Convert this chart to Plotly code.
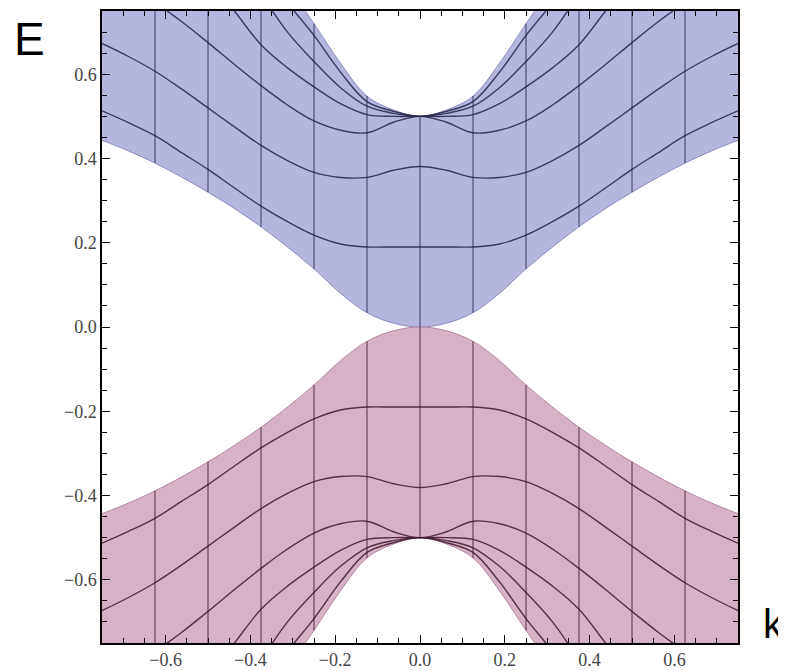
import plotly.graph_objects as go

# ---- data (right half, k >= 0; the picture is mirror-symmetric in k) ----
k_half = [0.0, 0.0625, 0.125, 0.1875, 0.25, 0.3125, 0.375, 0.4375, 0.5, 0.5625, 0.625, 0.6875, 0.75]

# upper (conduction) band: boundaries and mesh curves
cb_edge  = [0.000, 0.009, 0.034, 0.080, 0.138, 0.190, 0.238, 0.281, 0.320, 0.356, 0.389, 0.418, 0.443]
cb_line1 = [0.190, 0.190, 0.190, 0.197, 0.218, 0.250, 0.287, 0.330, 0.374, 0.414, 0.454, 0.485, 0.513]
cb_line2 = [0.381, 0.372, 0.355, 0.355, 0.367, 0.395, 0.431, 0.475, 0.520, 0.565, 0.607, 0.642, 0.673]
cb_line3 = [0.500, 0.486, 0.461, 0.467, 0.489, 0.527, 0.573, 0.623, 0.675, 0.725, 0.770, 0.810, 0.850]
cb_line4 = [0.500, 0.500, 0.504, 0.530, 0.570, 0.615, 0.670, 0.750, 0.830, 0.900, 0.970, 1.030, 1.090]
cb_line5 = [0.500, 0.507, 0.524, 0.568, 0.630, 0.700, 0.790, 0.880, 0.970, 1.050, 1.130, 1.210, 1.290]
cb_line6 = [0.500, 0.512, 0.535, 0.605, 0.692, 0.770, 0.860, 0.950, 1.040, 1.130, 1.220, 1.310, 1.400]
cb_top   = [0.500, 0.515, 0.548, 0.626, 0.720, 0.810, 0.900, 0.990, 1.080, 1.170, 1.260, 1.350, 1.440]

# lower (valence) band
vb_edge  = [-0.000, -0.009, -0.034, -0.080, -0.138, -0.190, -0.238, -0.281, -0.320, -0.356, -0.389, -0.418, -0.443]
vb_line1 = [-0.190, -0.190, -0.190, -0.197, -0.218, -0.250, -0.287, -0.330, -0.374, -0.414, -0.454, -0.485, -0.513]
vb_line2 = [-0.381, -0.372, -0.355, -0.355, -0.367, -0.395, -0.431, -0.475, -0.520, -0.565, -0.607, -0.642, -0.673]
vb_line3 = [-0.500, -0.486, -0.461, -0.467, -0.489, -0.527, -0.573, -0.623, -0.675, -0.725, -0.770, -0.810, -0.850]
vb_line4 = [-0.500, -0.500, -0.504, -0.530, -0.570, -0.615, -0.670, -0.750, -0.830, -0.900, -0.970, -1.030, -1.090]
vb_line5 = [-0.500, -0.507, -0.524, -0.568, -0.630, -0.700, -0.790, -0.880, -0.970, -1.050, -1.130, -1.210, -1.290]
vb_line6 = [-0.500, -0.512, -0.535, -0.605, -0.692, -0.770, -0.860, -0.950, -1.040, -1.130, -1.220, -1.310, -1.400]
vb_bot   = [-0.500, -0.515, -0.548, -0.626, -0.720, -0.810, -0.900, -0.990, -1.080, -1.170, -1.260, -1.350, -1.440]

# k values where vertical mesh lines are drawn
mesh_k = [0.0, 0.125, 0.25, 0.375, 0.5, 0.625]

x_ticks = [-0.6, -0.4, -0.2, 0.0, 0.2, 0.4, 0.6]
y_ticks = [-0.6, -0.4, -0.2, 0.0, 0.2, 0.4, 0.6]


def full(vals):
    return list(reversed(vals[1:])) + list(vals)


k_full = [-v for v in reversed(k_half[1:])] + list(k_half)

CB_FILL = "rgb(180,182,221)"
CB_EDGE = "rgb(140,140,190)"
CB_MESH = "rgba(35,35,75,0.85)"
VB_FILL = "rgb(214,178,199)"
VB_EDGE = "rgb(180,135,160)"
VB_MESH = "rgba(60,25,45,0.85)"

fig = go.Figure()


def band(lo, hi, curves, fill, edge, mesh):
    fig.add_trace(go.Scatter(x=k_full, y=full(lo), mode="lines",
                             line=dict(color=edge, width=1, shape="spline"),
                             hoverinfo="skip", showlegend=False))
    fig.add_trace(go.Scatter(x=k_full, y=full(hi), mode="lines", fill="tonexty",
                             fillcolor=fill,
                             line=dict(color=edge, width=1, shape="spline"),
                             hoverinfo="skip", showlegend=False))
    for c in curves:
        fig.add_trace(go.Scatter(x=k_full, y=full(c), mode="lines",
                                 line=dict(color=mesh, width=1.4, shape="spline"),
                                 hoverinfo="skip", showlegend=False))
    vx, vy = [], []
    for km in mesh_k:
        i = k_half.index(km)
        for s in ([1, -1] if km != 0 else [1]):
            vx += [s * km, s * km, None]
            vy += [lo[i], hi[i], None]
    fig.add_trace(go.Scatter(x=vx, y=vy, mode="lines",
                             line=dict(color=mesh, width=1.0),
                             hoverinfo="skip", showlegend=False))


band(cb_edge, cb_top, [cb_line1, cb_line2, cb_line3, cb_line4, cb_line5, cb_line6],
     CB_FILL, CB_EDGE, CB_MESH)
band(vb_bot, vb_edge, [vb_line1, vb_line2, vb_line3, vb_line4, vb_line5, vb_line6],
     VB_FILL, VB_EDGE, VB_MESH)

tickfont = dict(family="Liberation Serif", size=18, color="#444444")
axis_common = dict(
    range=[-0.75, 0.75], showgrid=False, zeroline=False,
    showline=True, linecolor="black", linewidth=1.5, mirror="ticks",
    ticks="inside", ticklen=8, tickwidth=1.3, tickcolor="black",
    tickformat=".1f", tickfont=tickfont,
    minor=dict(ticks="inside", ticklen=5, tickwidth=1, tickcolor="black", dtick=0.05),
)
fig.update_xaxes(**axis_common, tickvals=x_ticks)
fig.update_yaxes(**axis_common, tickvals=y_ticks)

fig.add_annotation(text="E", xref="paper", yref="paper", x=-0.142, y=0.956,
                   xanchor="left", yanchor="middle", showarrow=False,
                   font=dict(family="Liberation Sans", size=46, color="black"))
fig.add_annotation(text="k", xref="paper", yref="paper", x=1.036, y=0.03,
                   xanchor="left", yanchor="middle", showarrow=False,
                   font=dict(family="Liberation Sans", size=40, color="black"))

# the page body adds an 8px offset, so the figure is sized to fit the window
fig.update_layout(
    width=778, height=663,
    margin=dict(l=94, r=48, t=1, b=27),
    paper_bgcolor="white", plot_bgcolor="white",
    showlegend=False,
)

fig.write_html("out.html")
